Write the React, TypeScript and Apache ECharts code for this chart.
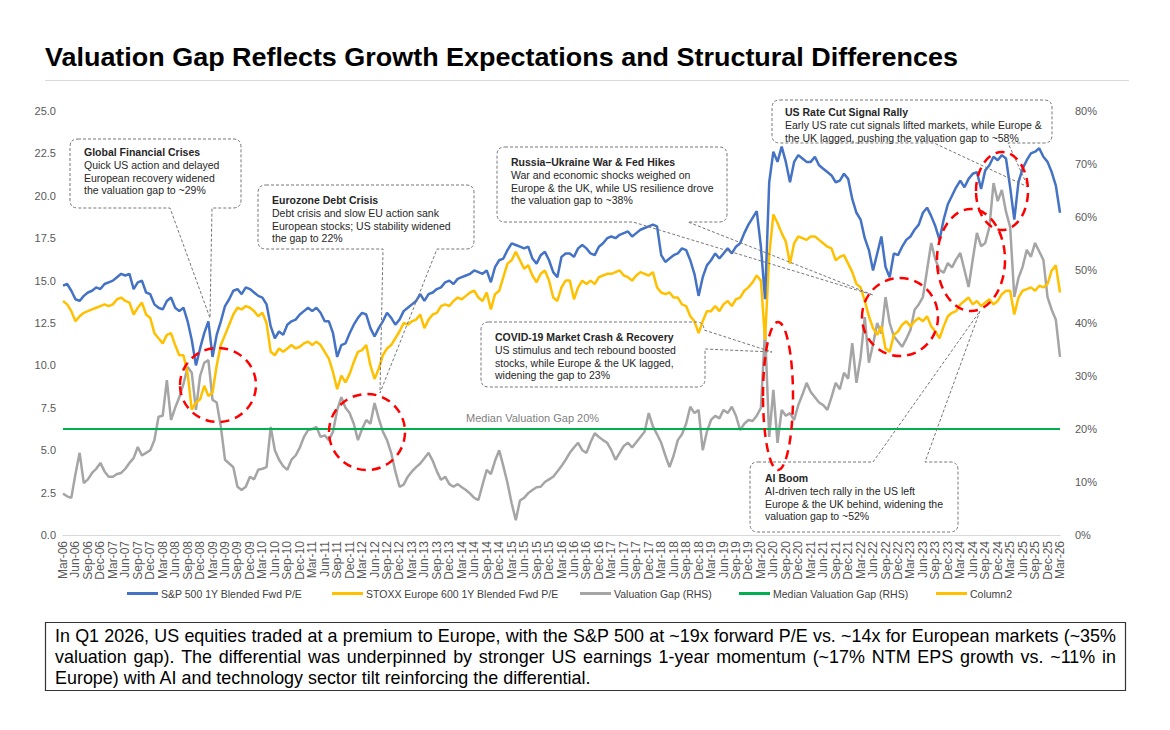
import React, { useEffect, useRef } from 'react';
import * as echarts from 'echarts';

const FONT = "'Liberation Sans', Arial, Helvetica, sans-serif";

// ---------- categories (monthly, Mar-06 .. Mar-26) ----------
const MONTH_ABBR = ['Jan', 'Feb', 'Mar', 'Apr', 'May', 'Jun', 'Jul', 'Aug', 'Sep', 'Oct', 'Nov', 'Dec'];
const START_YEAR = 2006;
const START_MONTH = 2; // March
const N_MONTHS = 241;
const CATEGORIES: string[] = [];
for (let i = 0; i < N_MONTHS; i++) {
  const t = START_MONTH + i;
  const y = START_YEAR + Math.floor(t / 12);
  CATEGORIES.push(MONTH_ABBR[t % 12] + '-' + String(y % 100).padStart(2, '0'));
}

// ---------- series values (rows: Mar..Feb of each year) ----------
const SP500_PE = [
  14.7, 14.8, 14.4, 13.9, 13.8, 14.1, 14.3, 14.4, 14.6, 14.5, 14.8, 14.9,
  15.0, 15.2, 15.4, 15.3, 15.4, 14.5, 14.9, 15.0, 14.3, 14.2, 13.6, 13.4,
  13.3, 13.8, 14.0, 13.4, 13.2, 13.4, 12.6, 11.5, 10.0, 11.0, 11.9, 12.6,
  10.5, 11.8, 12.6, 13.5, 13.9, 14.4, 14.5, 14.2, 14.6, 14.5, 14.3, 14.1,
  14.0, 13.6, 12.3, 11.6, 12.0, 11.8, 12.4, 12.6, 12.7, 13.0, 13.2, 13.4,
  13.2, 13.4, 13.1, 12.6, 12.6, 11.9, 10.5, 11.2, 11.3, 11.9, 12.4, 12.8,
  13.1, 13.0, 12.2, 11.7, 12.2, 12.6, 13.1, 12.8, 12.4, 12.7, 13.2, 13.4,
  13.6, 13.8, 14.2, 13.8, 14.2, 14.3, 14.5, 14.6, 14.9, 15.0, 14.8, 15.1,
  15.2, 15.3, 15.4, 15.6, 15.5, 15.4, 15.6, 14.9, 15.8, 16.2, 16.3, 16.8,
  17.2, 17.1, 17.0, 16.9, 17.0, 16.3, 16.0, 16.5, 16.7, 16.2, 15.5, 15.2,
  16.4, 16.6, 16.6, 16.4, 16.9, 17.1, 16.9, 16.6, 16.5, 17.0, 17.2, 17.5,
  17.6, 17.5, 17.7, 17.8, 17.9, 17.6, 17.8, 18.0, 18.1, 18.2, 18.3, 18.2,
  16.5, 16.1, 16.3, 16.5, 16.6, 16.9, 16.8, 16.2, 15.4, 14.1, 15.2, 15.9,
  16.2, 16.6, 16.3, 16.6, 16.9, 16.6, 17.0, 17.2, 17.8, 18.3, 18.7, 19.1,
  17.0, 13.9, 20.8, 22.6, 22.0, 22.9, 22.0, 20.8, 22.0, 22.4, 22.2, 22.0,
  22.0, 22.3, 21.8, 21.6, 21.4, 21.2, 20.8, 20.9, 21.3, 21.0, 19.8, 19.0,
  18.6, 17.5, 16.8, 15.6, 16.6, 17.6, 15.8, 15.2, 16.6, 16.5, 17.0, 17.4,
  17.6, 18.0, 18.3, 19.0, 19.3, 18.8, 18.2, 17.4, 18.6, 19.5, 20.0, 20.5,
  20.9, 20.5, 21.0, 21.3, 21.4, 20.4, 21.5, 21.8, 22.3, 22.1, 22.4, 22.2,
  20.5, 18.6, 20.8, 21.6, 22.1, 22.5, 22.6, 22.8, 22.3, 22.0, 21.4, 20.6,
  19.0,
];

const STOXX600_PE = [
  13.8, 13.6, 13.2, 12.6, 12.9, 13.1, 13.2, 13.3, 13.4, 13.5, 13.6, 13.5,
  13.6, 13.9, 14.0, 13.8, 13.7, 13.0, 13.4, 13.7, 13.0, 12.8, 11.9, 11.6,
  11.3, 11.8, 11.9, 11.2, 10.6, 10.6, 9.5, 7.4, 7.8, 8.0, 8.8, 8.2,
  8.4, 10.0, 11.2, 11.8, 12.4, 13.0, 13.4, 13.3, 13.5, 13.4, 13.2, 12.9,
  13.1, 12.5, 10.8, 10.6, 11.0, 10.8, 11.0, 11.2, 11.0, 11.1, 11.3, 11.4,
  11.2, 11.4, 11.2, 10.8, 10.4, 9.6, 8.6, 9.4, 9.0, 9.5, 10.2, 10.8,
  10.9, 11.2, 10.0, 9.2, 9.8, 10.6, 11.0, 11.2, 11.6, 12.0, 12.5, 12.4,
  12.6, 12.7, 13.0, 12.2, 12.7, 13.0, 13.1, 13.5, 13.6, 13.5, 13.8, 14.0,
  13.9, 14.1, 14.3, 14.4, 14.0, 13.8, 14.3, 13.3, 14.2, 14.4, 15.2, 16.0,
  16.2, 16.7, 16.2, 15.7, 15.9, 15.3, 14.9, 15.4, 15.6, 15.0, 14.0, 13.8,
  14.6, 15.0, 15.0, 13.9, 14.6, 15.0, 14.8, 15.0, 14.8, 15.2, 15.3, 15.4,
  15.4, 15.5, 15.6, 15.3, 15.2, 15.0, 15.3, 15.5, 15.4, 15.3, 15.5, 14.6,
  14.3, 14.2, 14.3, 14.0, 14.0, 13.6, 13.5, 12.9, 12.6, 11.9, 12.6, 13.2,
  13.2, 13.5, 13.2, 13.6, 13.8, 13.5, 13.9, 14.0, 14.4, 14.6, 14.9, 15.3,
  15.0, 11.5, 16.5, 18.9, 18.4, 17.8, 17.3, 16.0, 17.2, 17.6, 17.5, 17.4,
  17.6, 17.6, 17.4, 17.2, 17.0, 16.9, 16.2, 16.4, 16.5, 16.0, 15.5, 14.8,
  14.6, 13.8, 12.9, 12.2, 11.8, 12.3, 11.0, 10.8, 11.8, 12.0, 12.4, 12.6,
  12.3, 12.6, 12.8, 12.6, 12.9, 12.3, 12.0, 11.6, 12.3, 12.9, 13.1, 13.2,
  13.6, 13.8, 14.0, 13.6, 13.8, 13.5, 13.7, 13.9, 13.6, 13.8, 14.2, 14.4,
  14.4, 13.0, 14.0, 14.4, 14.5, 14.6, 14.4, 14.7, 14.6, 14.8, 15.6, 15.9,
  14.3,
];

const VALUATION_GAP = [
  7.8, 7.3, 7.0, 11.5, 15.5, 9.8, 10.5, 11.7, 12.5, 13.6, 12.0, 11.0,
  11.0, 11.5, 11.7, 12.5, 13.6, 14.5, 16.6, 15.0, 15.5, 16.0, 17.9, 22.3,
  22.5, 29.2, 21.7, 24.0, 26.0, 28.5, 31.7, 30.6, 23.6, 30.0, 32.5, 33.0,
  25.5, 25.0, 20.4, 14.2, 13.5, 12.8, 9.1, 8.5, 9.1, 11.0, 10.5, 12.3,
  12.5, 12.8, 20.4, 16.0, 14.2, 13.0, 12.3, 14.2, 15.0, 16.5, 18.5, 19.8,
  20.0, 20.4, 18.5, 18.8, 17.9, 19.5, 23.6, 26.0, 24.0, 23.0, 21.0, 17.9,
  20.0, 21.7, 21.0, 24.9, 22.0, 19.5, 17.9, 15.5, 12.0, 9.1, 9.5, 11.0,
  12.0, 12.8, 13.5, 14.5, 15.5, 14.0, 12.0, 10.4, 11.0, 9.6, 9.1, 9.6,
  9.0, 8.5, 7.8, 7.0, 6.6, 9.5, 12.3, 11.5, 14.0, 16.0, 13.0, 9.8,
  6.0, 2.8, 6.5, 7.0, 7.9, 8.5, 9.0, 9.1, 10.0, 10.5, 11.0, 12.0,
  13.0, 14.2, 15.5, 16.5, 17.4, 16.0, 15.5, 17.5, 19.2, 18.5, 17.9, 17.4,
  16.0, 14.2, 15.5, 16.8, 17.4, 16.5, 17.5, 18.5, 19.5, 23.0, 20.5, 19.0,
  17.4, 15.0, 12.8, 15.0, 17.9, 19.0, 21.0, 24.2, 23.0, 23.6, 16.0, 19.5,
  21.7, 22.5, 22.0, 23.6, 23.0, 24.2, 22.5, 19.8, 21.0, 21.7, 21.5, 22.5,
  24.0, 38.7, 18.5, 27.4, 17.4, 23.6, 22.5, 23.0, 21.7, 24.5, 26.5, 28.7,
  27.0, 26.0, 25.0, 24.5, 23.6, 26.0, 28.7, 27.5, 30.6, 29.5, 36.2, 28.7,
  33.5, 41.1, 32.5, 36.0, 40.0, 38.0, 44.9, 40.0, 37.5, 36.5, 35.5, 37.0,
  38.7, 42.5, 43.5, 44.9, 50.0, 55.1, 52.0, 50.0, 49.5, 51.3, 50.5, 52.0,
  53.2, 50.0, 46.8, 52.0, 57.0, 54.5, 55.1, 58.1, 66.4, 63.0, 65.1, 61.0,
  58.1, 44.9, 48.5, 50.6, 53.8, 52.5, 55.1, 53.5, 51.9, 44.9, 42.5, 40.6,
  33.6,
];

const MEDIAN_GAP = 20;

const LEFT_AXIS = { min: 0, max: 25, interval: 2.5 };
const RIGHT_AXIS = { min: 0, max: 80, interval: 10 };

const SERIES_NAMES = {
  sp: 'S&P 500 1Y Blended Fwd P/E',
  stoxx: 'STOXX Europe 600 1Y Blended Fwd P/E',
  gap: 'Valuation Gap (RHS)',
  median: 'Median Valuation Gap (RHS)',
  col2: 'Column2',
};

const COLORS = {
  sp: '#4472C4',
  stoxx: '#FFC000',
  gap: '#A5A5A5',
  median: '#00B050',
  col2: '#FFC000',
};

const TITLE = 'Valuation Gap Reflects Growth Expectations and Structural Differences';
const MEDIAN_LABEL = 'Median Valuation Gap 20%';

const BODY_LINES = [
  'In Q1 2026, US equities traded at a premium to Europe, with the S&P 500 at ~19x forward P/E vs. ~14x for European markets (~35%',
  'valuation gap). The differential was underpinned by stronger US earnings 1-year momentum (~17% NTM EPS growth vs. ~11% in',
  'Europe) with AI and technology sector tilt reinforcing the differential.',
];

// ---------- annotation callouts ----------
type Callout = {
  id: string;
  title: string;
  lines: string[];
  tx: number;
  ty: number;
  d: string;
};

const R = 8;
function boxPath(
  x0: number, y0: number, x1: number, y1: number,
  wedge: { side: 'bottom' | 'top' | 'topright'; a: number; b: number; tx: number; ty: number }
) {
  const r = R;
  let d = '';
  if (wedge.side === 'bottom') {
    d += `M ${x0 + r} ${y0} H ${x1 - r} Q ${x1} ${y0} ${x1} ${y0 + r} V ${y1 - r} Q ${x1} ${y1} ${x1 - r} ${y1}`;
    d += ` H ${wedge.b} L ${wedge.tx} ${wedge.ty} L ${wedge.a} ${y1}`;
    d += ` H ${x0 + r} Q ${x0} ${y1} ${x0} ${y1 - r} V ${y0 + r} Q ${x0} ${y0} ${x0 + r} ${y0} Z`;
  } else if (wedge.side === 'top') {
    d += `M ${x0 + r} ${y0} H ${wedge.a} L ${wedge.tx} ${wedge.ty} L ${wedge.b} ${y0}`;
    d += ` H ${x1 - r} Q ${x1} ${y0} ${x1} ${y0 + r} V ${y1 - r} Q ${x1} ${y1} ${x1 - r} ${y1}`;
    d += ` H ${x0 + r} Q ${x0} ${y1} ${x0} ${y1 - r} V ${y0 + r} Q ${x0} ${y0} ${x0 + r} ${y0} Z`;
  } else {
    d += `M ${x0 + r} ${y0} H ${wedge.a} Q ${x1 - 1} ${y0} ${x1 - 1} ${y0 + r} L ${wedge.tx} ${wedge.ty} L ${x1} ${wedge.b}`;
    d += ` V ${y1 - r} Q ${x1} ${y1} ${x1 - r} ${y1}`;
    d += ` H ${x0 + r} Q ${x0} ${y1} ${x0} ${y1 - r} V ${y0 + r} Q ${x0} ${y0} ${x0 + r} ${y0} Z`;
  }
  return d;
}

const CALLOUTS: Callout[] = [
  {
    id: 'coGfc',
    title: 'Global Financial Crises',
    lines: ['Quick US action and delayed', 'European recovery widened', 'the valuation gap to ~29%'],
    tx: 84, ty: 152,
    d: boxPath(70, 139, 241, 208, { side: 'bottom', a: 170, b: 212, tx: 210, ty: 318 }),
  },
  {
    id: 'coEuro',
    title: 'Eurozone Debt Crisis',
    lines: ['Debt crisis and slow EU action sank', 'European stocks; US stability widened', 'the gap to 22%'],
    tx: 272, ty: 200,
    d: boxPath(258, 185, 474, 249, { side: 'bottom', a: 383, b: 437, tx: 380, ty: 393 }),
  },
  {
    id: 'coRussia',
    title: 'Russia\u2013Ukraine War & Fed Hikes',
    lines: ['War and economic shocks weighed on', 'Europe & the UK, while US resilience drove', 'the valuation gap to ~38%'],
    tx: 511, ty: 162,
    d: boxPath(497, 147, 727, 222, { side: 'bottom', a: 633, b: 688, tx: 873, ty: 295 }),
  },
  {
    id: 'coCovid',
    title: 'COVID-19 Market Crash & Recovery',
    lines: ['US stimulus and tech rebound boosted', 'stocks, while Europe & the UK lagged,', 'widening the gap to 23%'],
    tx: 495, ty: 337,
    d: boxPath(481, 322, 705, 387, { side: 'topright', a: 696, b: 349, tx: 772, ty: 352 }),
  },
  {
    id: 'coRate',
    title: 'US Rate Cut Signal Rally',
    lines: ['Early US rate cut signals lifted markets, while Europe &', 'the UK lagged, pushing the valuation gap to ~58%'],
    tx: 785, ty: 112,
    d: boxPath(772, 100, 1052, 143, { side: 'bottom', a: 934, b: 1008, tx: 1028, ty: 187 }),
  },
  {
    id: 'coAi',
    title: 'AI Boom',
    lines: ['AI-driven tech rally in the US left', 'Europe & the UK behind, widening the', 'valuation gap to ~52%'],
    tx: 765, ty: 478,
    d: boxPath(750, 462, 958, 532, { side: 'top', a: 873, b: 925, tx: 980, ty: 311 }),
  },
];

CALLOUTS.forEach((c) => {
  echarts.graphic.registerShape(c.id, echarts.graphic.extendPath(c.d, {}) as any);
});

const HIGHLIGHTS = [
  { cx: 218, cy: 385, rx: 38, ry: 37 },
  { cx: 367, cy: 432, rx: 38, ry: 38 },
  { cx: 778, cy: 396, rx: 15, ry: 74 },
  { cx: 900, cy: 317, rx: 38, ry: 39 },
  { cx: 971, cy: 260, rx: 34, ry: 51 },
  { cx: 1002, cy: 191, rx: 26, ry: 39 },
];

const LEGEND_ITEMS = [
  { key: 'sp', left: 127 },
  { key: 'stoxx', left: 332 },
  { key: 'gap', left: 580 },
  { key: 'median', left: 739 },
  { key: 'col2', left: 936 },
];

// ---------- text measuring helpers ----------
let measureCtx: CanvasRenderingContext2D | null = null;
function measure(text: string, size: number, weight = 'normal') {
  if (!measureCtx) measureCtx = document.createElement('canvas').getContext('2d');
  if (!measureCtx) return text.length * size * 0.5;
  measureCtx.font = `${weight} ${size}px "Liberation Sans", Arial, sans-serif`;
  return measureCtx.measureText(text).width;
}

function buildGraphics() {
  const els: any[] = [];
  const ANN = '#767676';
  const TXT = '#262626';
  const ANN_SIZE = 10.5;

  // title
  const TITLE_SIZE = 26;
  const titleW = measure(TITLE, TITLE_SIZE, 'bold');
  els.push({
    type: 'text', x: 45, y: 57, scaleX: 913 / titleW, z: 100,
    style: { text: TITLE, fontSize: TITLE_SIZE, fontWeight: 'bold', fontFamily: FONT, fill: '#000', verticalAlign: 'middle', align: 'left' },
  });
  els.push({
    type: 'line', z: 100, shape: { x1: 45, y1: 80.5, x2: 1129, y2: 80.5 },
    style: { stroke: '#D9D9D9', lineWidth: 1 },
  });

  // callouts
  CALLOUTS.forEach((c) => {
    els.push({
      type: c.id, x: 0, y: 0, z: 100, silent: true,
      style: { fill: 'none', stroke: ANN, lineWidth: 1, lineDash: [3, 2] },
    });
    els.push({
      type: 'text', x: c.tx, y: c.ty, z: 101,
      style: { text: c.title, fontSize: ANN_SIZE, fontWeight: 'bold', fontFamily: FONT, fill: TXT, verticalAlign: 'middle' },
    });
    c.lines.forEach((ln, i) => {
      els.push({
        type: 'text', x: c.tx, y: c.ty + 12.8 * (i + 1), z: 101,
        style: { text: ln, fontSize: ANN_SIZE, fontFamily: FONT, fill: TXT, verticalAlign: 'middle' },
      });
    });
  });

  // red dashed highlight ellipses
  HIGHLIGHTS.forEach((h) => {
    els.push({
      type: 'ellipse', z: 102, silent: true,
      shape: { cx: h.cx, cy: h.cy, rx: h.rx, ry: h.ry },
      style: { fill: 'none', stroke: '#FF0000', lineWidth: 2.5, lineDash: [9, 6] },
    });
  });

  // median label
  els.push({
    type: 'text', x: 466, y: 418, z: 100,
    style: { text: MEDIAN_LABEL, fontSize: 11, fontFamily: FONT, fill: '#7F7F7F', verticalAlign: 'middle' },
  });

  // bottom commentary box
  els.push({
    type: 'rect', z: 100, shape: { x: 45.5, y: 622.5, width: 1080, height: 68 },
    style: { fill: '#fff', stroke: '#333', lineWidth: 1.2 },
  });
  const BODY_SIZE = 18;
  const sx = 537 / measure(BODY_LINES[2], BODY_SIZE);
  const bodyLeft = 55;
  const bodyRight = 1116;
  BODY_LINES.forEach((ln, li) => {
    const y = 636 + li * 21;
    if (li === BODY_LINES.length - 1) {
      els.push({
        type: 'text', x: bodyLeft, y, scaleX: sx, z: 101,
        style: { text: ln, fontSize: BODY_SIZE, fontFamily: FONT, fill: '#000', verticalAlign: 'middle' },
      });
      return;
    }
    const words = ln.split(' ');
    const widths = words.map((w) => measure(w, BODY_SIZE) * sx);
    const total = widths.reduce((a, b) => a + b, 0);
    const gap = (bodyRight - bodyLeft - total) / (words.length - 1);
    let x = bodyLeft;
    words.forEach((w, wi) => {
      els.push({
        type: 'text', x, y, scaleX: sx, z: 101,
        style: { text: w, fontSize: BODY_SIZE, fontFamily: FONT, fill: '#000', verticalAlign: 'middle' },
      });
      x += widths[wi] + gap;
    });
  });
  return els;
}

function lineSeries(name: string, color: string, data: number[], yAxisIndex: number, z: number) {
  return {
    name, type: 'line', data, yAxisIndex, z,
    symbol: 'none', showSymbol: false, smooth: false,
    lineStyle: { color, width: 2.5 },
    itemStyle: { color },
    emphasis: { disabled: true },
  };
}

export default function App() {
  const ref = useRef<HTMLDivElement>(null);
  useEffect(() => {
    if (!ref.current) return;
    const chart = echarts.init(ref.current, undefined, { renderer: 'svg' });
    const option: any = {
      animation: false,
      backgroundColor: '#ffffff',
      textStyle: { fontFamily: FONT },
      grid: { left: 63, right: 110, top: 111, bottom: 195 },
      legend: LEGEND_ITEMS.map((it) => ({
        data: [(SERIES_NAMES as any)[it.key]],
        left: it.left,
        top: 588,
        padding: 0,
        itemWidth: 31,
        itemHeight: 3,
        itemGap: 0,
        icon: 'rect',
        selectedMode: false,
        textStyle: { fontSize: 10.5, color: '#404040', fontFamily: FONT, padding: [0, 0, 0, -2] },
      })),
      xAxis: {
        type: 'category',
        data: CATEGORIES,
        boundaryGap: false,
        axisLine: { show: true, lineStyle: { color: '#D9D9D9', width: 1 } },
        axisTick: { show: false },
        axisLabel: { interval: 2, rotate: 90, fontSize: 12, color: '#595959', fontFamily: FONT, margin: 6 },
        splitLine: { show: false },
      },
      yAxis: [
        {
          type: 'value', position: 'left', ...LEFT_AXIS,
          axisLine: { show: false }, axisTick: { show: false }, splitLine: { show: false },
          axisLabel: { fontSize: 11, color: '#595959', fontFamily: FONT, margin: 7, formatter: (v: number) => v.toFixed(1) },
        },
        {
          type: 'value', position: 'right', ...RIGHT_AXIS,
          axisLine: { show: false }, axisTick: { show: false }, splitLine: { show: false },
          axisLabel: { fontSize: 11, color: '#595959', fontFamily: FONT, margin: 15, formatter: '{value}%' },
        },
      ],
      series: [
        lineSeries(SERIES_NAMES.gap, COLORS.gap, VALUATION_GAP, 1, 2),
        lineSeries(SERIES_NAMES.stoxx, COLORS.stoxx, STOXX600_PE, 0, 3),
        lineSeries(SERIES_NAMES.sp, COLORS.sp, SP500_PE, 0, 4),
        {
          ...lineSeries(SERIES_NAMES.median, COLORS.median, [], 1, 2),
          markLine: {
            silent: true,
            symbol: ['none', 'none'],
            label: { show: false },
            lineStyle: { color: COLORS.median, width: 2, type: 'solid' },
            data: [{ yAxis: MEDIAN_GAP }],
          },
        },
        lineSeries(SERIES_NAMES.col2, COLORS.col2, [], 0, 2),
      ],
      graphic: { elements: buildGraphics() },
    };
    chart.setOption(option);
    return () => chart.dispose();
  }, []);
  return (
    <div
      ref={ref}
      style={{ position: 'fixed', left: 0, top: 0, width: 1170, height: 730, background: '#fff' }}
    />
  );
}
